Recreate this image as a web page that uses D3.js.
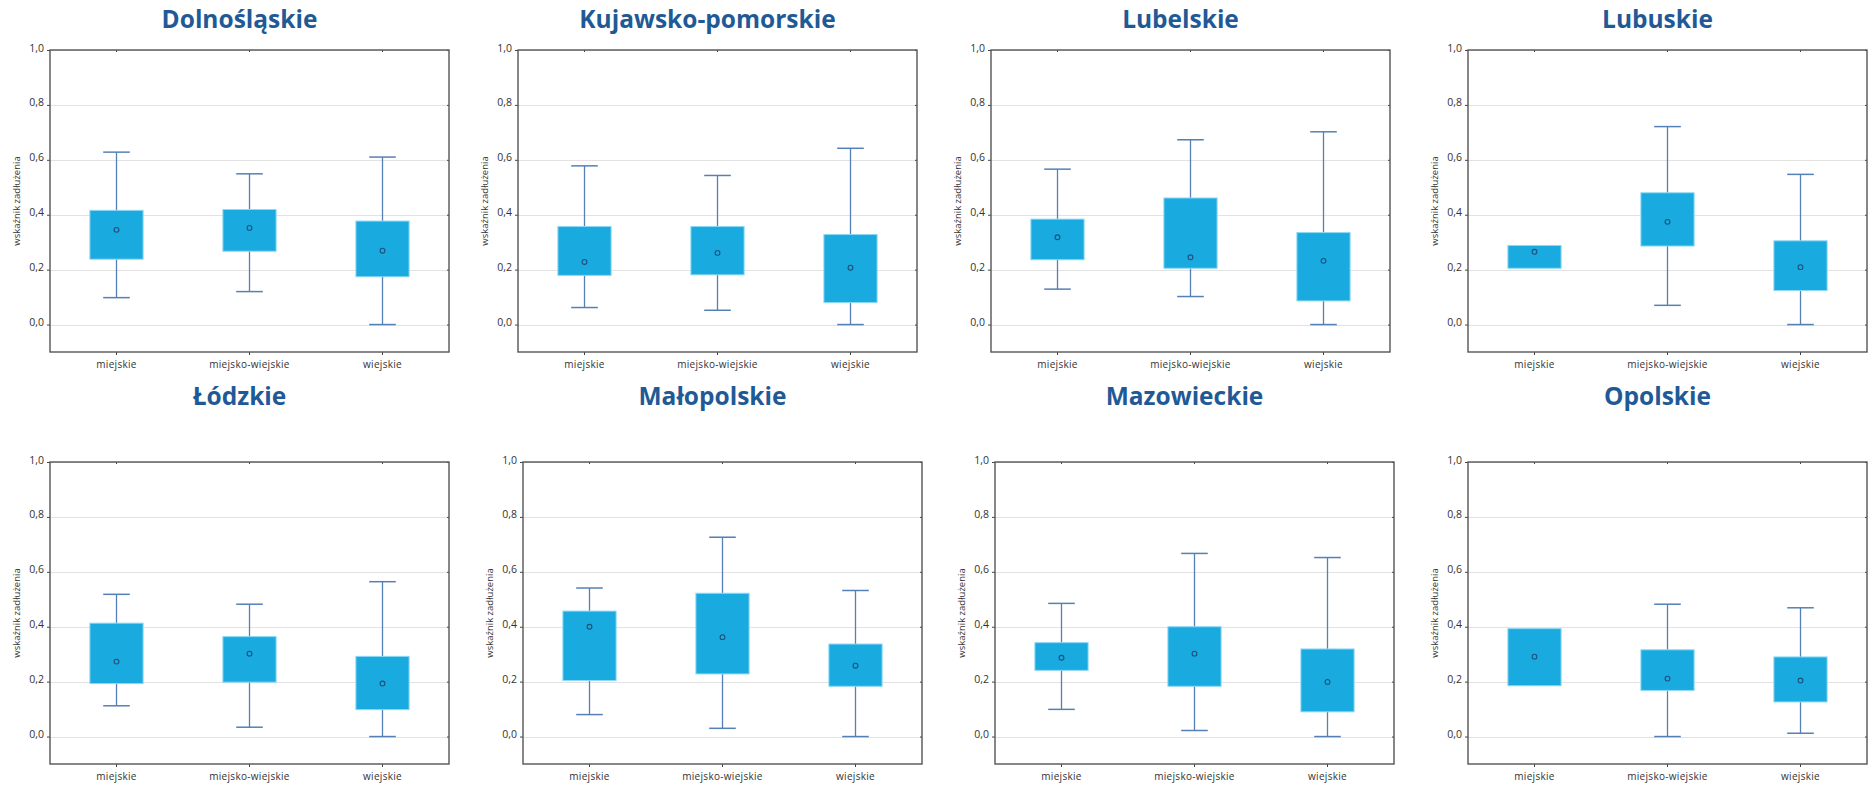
<!DOCTYPE html>
<html>
<head>
<meta charset="utf-8">
<script src="https://cdn.jsdelivr.net/npm/d3@7"></script>
<style>
  body { margin: 0; background: #fff; }
  svg { display: block; }
</style>
</head>
<body>
<svg id="chart" width="1874" height="787"></svg>
<script>
// ---- data ----
const categories = ["miejskie", "miejsko-wiejskie", "wiejskie"];
const regions = ["Dolnośląskie", "Kujawsko-pomorskie", "Lubelskie", "Lubuskie",
                 "Łódzkie", "Małopolskie", "Mazowieckie", "Opolskie"];
const yTicks = [0.0, 0.2, 0.4, 0.6, 0.8, 1.0];
const yLabel = "wskaźnik zadłużenia";
// per region: [min whisker, q1, centre point, q3, max whisker] for each category
const dolnoslaskie      = [[0.098,0.238,0.345,0.416,0.628],[0.120,0.267,0.352,0.419,0.549],[0.000,0.174,0.269,0.377,0.610]];
const kujawskoPomorskie = [[0.062,0.179,0.228,0.357,0.578],[0.052,0.181,0.261,0.357,0.543],[0.000,0.080,0.207,0.328,0.642]];
const lubelskie         = [[0.129,0.236,0.318,0.384,0.566],[0.102,0.205,0.245,0.461,0.673],[0.000,0.086,0.232,0.335,0.702]];
const lubuskie          = [[0.205,0.205,0.265,0.288,0.288],[0.070,0.286,0.374,0.480,0.721],[0.000,0.124,0.209,0.305,0.547]];
const lodzkie           = [[0.112,0.193,0.273,0.413,0.518],[0.034,0.198,0.302,0.364,0.482],[0.000,0.098,0.193,0.292,0.564]];
const malopolskie       = [[0.080,0.204,0.400,0.457,0.541],[0.030,0.228,0.362,0.522,0.726],[0.000,0.183,0.258,0.337,0.532]];
const mazowieckie       = [[0.099,0.241,0.287,0.342,0.485],[0.022,0.183,0.302,0.400,0.667],[0.000,0.090,0.199,0.319,0.652]];
const opolskie          = [[0.185,0.185,0.291,0.393,0.393],[0.000,0.168,0.211,0.316,0.482],[0.012,0.126,0.204,0.290,0.469]];
const regionValues = [dolnoslaskie, kujawskoPomorskie, lubelskie, lubuskie,
                      lodzkie, malopolskie, mazowieckie, opolskie];

// ---- layout ----
const frameLefts = [50, 518, 991, 1468, 50, 523, 995, 1468];
const frameW = 399;
const rowTops = [50, 462];
const frameH = 302;
const titleY = [28, 405];

const svg = d3.select("#chart");
const fmt = d => d3.format(".1f")(d).replace(".", ",");

regions.forEach((name, i) => {
  const row = i < 4 ? 0 : 1;
  const left = frameLefts[i];
  const top = rowTops[row];
  const g = svg.append("g").attr("transform", `translate(${left},${top})`);

  const x = d3.scaleBand().domain(categories).range([0, frameW]);
  const y = d3.scaleLinear().domain([-0.1, 1.0]).range([frameH, 0]);
  const bw = x.bandwidth();

  // grid
  g.selectAll("line.grid").data(yTicks).join("line")
    .attr("x1", 0).attr("x2", frameW)
    .attr("y1", d => Math.round(y(d)) + 0.5).attr("y2", d => Math.round(y(d)) + 0.5)
    .attr("stroke", "#e2e2e2").attr("stroke-width", 1.2);

  // left axis (ticks outside) and labels
  const yAxis = d3.axisLeft(y).tickValues(yTicks).tickFormat(fmt).tickSize(3).tickPadding(3);
  const ya = g.append("g").call(yAxis);
  ya.select(".domain").remove();
  ya.selectAll("line").attr("stroke", "#444");
  ya.selectAll("text").attr("font-family", "'Open Sans', sans-serif").attr("font-size", 10.5).attr("fill", "#333")
    .attr("dy", "0.1em");

  // right ticks (inside)
  const ra = g.append("g").attr("transform", `translate(${frameW},0)`)
    .call(d3.axisRight(y).tickValues(yTicks).tickSize(-2).tickFormat(""));
  ra.select(".domain").remove();
  ra.selectAll("line").attr("stroke", "#444");

  // bottom axis
  const xa = g.append("g").attr("transform", `translate(0,${frameH})`)
    .call(d3.axisBottom(x).tickSize(3).tickPadding(6));
  xa.select(".domain").remove();
  xa.selectAll("line").attr("stroke", "#444");
  xa.selectAll("text").attr("font-family", "'Open Sans', sans-serif").attr("font-size", 10).attr("fill", "#333")
    .attr("letter-spacing", "0.3px");

  // top ticks (inside)
  const ta = g.append("g").call(d3.axisTop(x).tickSize(-2).tickFormat(""));
  ta.select(".domain").remove();
  ta.selectAll("line").attr("stroke", "#444");

  // boxes
  const data = regionValues[i].map((v, k) => ({cat: categories[k], v}));
  const bx = g.selectAll("g.box").data(data).join("g").attr("class", "box");
  const whiskColor = "#5580b6";
  bx.append("line")
    .attr("x1", d => x(d.cat) + bw / 2).attr("x2", d => x(d.cat) + bw / 2)
    .attr("y1", d => y(d.v[0])).attr("y2", d => y(d.v[4]))
    .attr("stroke", whiskColor).attr("stroke-width", 1.3);
  [0, 4].forEach(j => {
    bx.filter(d => d.v[j] !== d.v[j === 0 ? 1 : 3]).append("line")
      .attr("x1", d => x(d.cat) + bw * 0.4).attr("x2", d => x(d.cat) + bw * 0.6)
      .attr("y1", d => y(d.v[j])).attr("y2", d => y(d.v[j]))
      .attr("stroke", whiskColor).attr("stroke-width", 1.5);
  });
  bx.append("rect")
    .attr("x", d => x(d.cat) + bw * 0.3).attr("width", bw * 0.4)
    .attr("y", d => y(d.v[3])).attr("height", d => y(d.v[1]) - y(d.v[3]))
    .attr("fill", "#19abe0").attr("stroke", "#8fd8f3").attr("stroke-width", 1);
  bx.append("circle")
    .attr("cx", d => x(d.cat) + bw / 2).attr("cy", d => y(d.v[2])).attr("r", 2.4)
    .attr("fill", "none").attr("stroke", "#1d4f7e").attr("stroke-width", 1.1);

  // frame
  g.append("rect").attr("x", 0).attr("y", 0).attr("width", frameW).attr("height", frameH)
    .attr("fill", "none").attr("stroke", "#555").attr("stroke-width", 1.4);

  // y label
  g.append("text")
    .attr("transform", `translate(-30,${frameH / 2}) rotate(-90)`)
    .attr("text-anchor", "middle")
    .attr("font-family", "'Open Sans', sans-serif").attr("font-size", 9.5).attr("fill", "#333")
    .text(yLabel);

  // title
  svg.append("text")
    .attr("x", left + frameW / 2 - 10).attr("y", titleY[row])
    .attr("text-anchor", "middle")
    .attr("font-family", "'Open Sans', sans-serif").attr("font-weight", "bold")
    .attr("font-size", 24.5).attr("fill", "#1f5a96")
    .text(name);
});
</script>
</body>
</html>
